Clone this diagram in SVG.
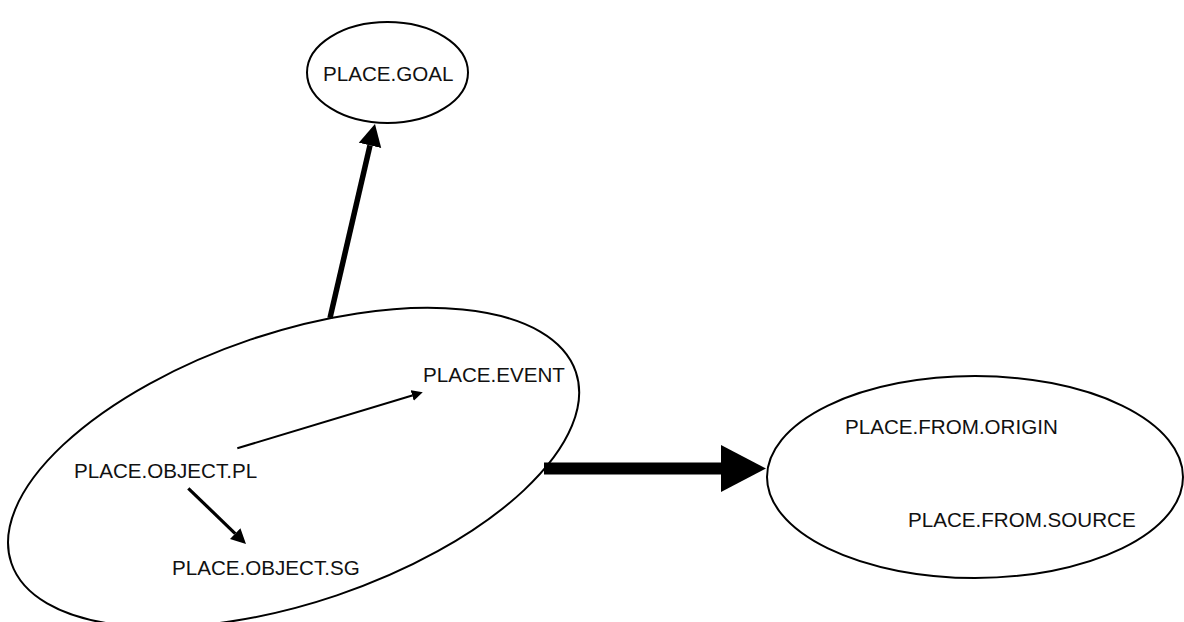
<svg xmlns="http://www.w3.org/2000/svg" width="1184" height="622" viewBox="0 0 1184 622">
  <style>
    .node { fill: #ffffff; stroke: #000000; stroke-width: 2; }
    .label { font-family: "Liberation Sans", Arial, Helvetica, sans-serif; font-size: 20.6px; fill: #111111; }
    .edge { stroke: #000000; fill: none; stroke-linecap: butt; }
  </style>
  <defs>
    <marker id="head-sm" markerUnits="userSpaceOnUse" viewBox="0 -6 12 12" refX="0" refY="0" markerWidth="12" markerHeight="12" orient="auto">
      <path d="M0,-5.5 L11,0 L0,5.5 Z" fill="#000"/>
    </marker>
    <marker id="head-md" markerUnits="userSpaceOnUse" viewBox="0 -8 16 16" refX="0" refY="0" markerWidth="16" markerHeight="16" orient="auto">
      <path d="M0,-7.5 L15,0 L0,7.5 Z" fill="#000"/>
    </marker>
    <marker id="head-lg" markerUnits="userSpaceOnUse" viewBox="0 -12 23 24" refX="0" refY="0" markerWidth="23" markerHeight="24" orient="auto">
      <path d="M0,-11.5 L22,0 L0,11.5 Z" fill="#000"/>
    </marker>
    <marker id="head-xl" markerUnits="userSpaceOnUse" viewBox="0 -24 46 48" refX="0" refY="0" markerWidth="46" markerHeight="48" orient="auto">
      <path d="M0,-23.5 L45,0 L0,23.5 Z" fill="#000"/>
    </marker>
  </defs>

  <!-- goal place -->
  <g id="place-goal">
    <ellipse class="node" cx="387.5" cy="72.5" rx="80.5" ry="50.5"/>
    <text class="label" x="323" y="81">PLACE.GOAL</text>
  </g>

  <!-- tilted container holding event and object places -->
  <g id="place-event-group">
    <ellipse class="node" cx="293.6" cy="467.5" rx="298" ry="135" transform="rotate(-18.7 293.6 467.5)"/>
  </g>
  <g id="place-event">
    <text class="label" x="423" y="382">PLACE.EVENT</text>
  </g>
  <g id="place-object-pl">
    <text class="label" x="74" y="478">PLACE.OBJECT.PL</text>
  </g>
  <g id="place-object-sg">
    <text class="label" x="172" y="575">PLACE.OBJECT.SG</text>
  </g>

  <!-- origin / source place -->
  <g id="place-from">
    <ellipse class="node" cx="975" cy="477" rx="208" ry="101"/>
    <text class="label" x="845" y="434">PLACE.FROM.ORIGIN</text>
    <text class="label" x="908" y="527">PLACE.FROM.SOURCE</text>
  </g>

  <!-- connectors -->
  <g id="connectors">
    <line class="edge" x1="330" y1="318" x2="370" y2="145.4" stroke-width="5.5" marker-end="url(#head-lg)"/>
    <line class="edge" x1="544" y1="468.5" x2="721" y2="468.5" stroke-width="12" marker-end="url(#head-xl)"/>
    <line class="edge" x1="237.3" y1="448.3" x2="412.2" y2="395.5" stroke-width="2" marker-end="url(#head-sm)"/>
    <line class="edge" x1="188.3" y1="488.3" x2="235.2" y2="533.6" stroke-width="3.2" marker-end="url(#head-md)"/>
  </g>
</svg>
